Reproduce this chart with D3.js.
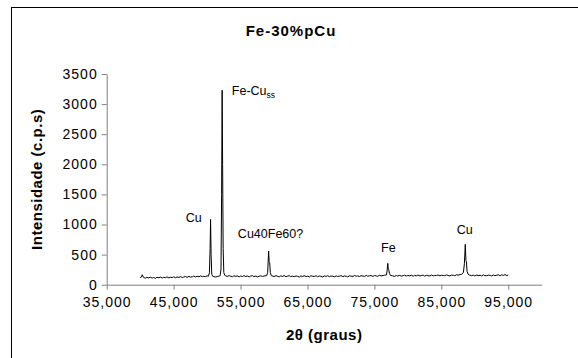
<!DOCTYPE html>
<html>
<head>
<meta charset="utf-8">
<script src="https://cdn.jsdelivr.net/npm/d3@7"></script>
<style>
  body { margin: 0; background: #fff; }
  svg { display: block; font-family: "Liberation Sans", Arial, sans-serif; }
</style>
</head>
<body>
<script>
// 2theta (degrees) and intensity (c.p.s)
var theta = [40.0, 40.2, 40.3, 40.5, 40.8, 41.0, 41.3, 41.5, 41.8, 42.0, 42.3, 42.5, 42.8, 43.0, 43.3, 43.5, 43.8, 44.0, 44.3, 44.5, 44.8, 45.0, 45.3, 45.5, 45.8,
  46.0, 46.3, 46.5, 46.8, 47.0, 47.3, 47.5, 47.8, 48.0, 48.3, 48.5, 48.8, 49.0, 49.3, 49.5, 49.8, 50.0, 50.2,
  50.35, 50.45, 50.52, 50.6, 50.7, 50.85, 51.0, 51.3, 51.6, 51.8,
  51.95, 52.08, 52.17, 52.25, 52.32, 52.4, 52.5, 52.65, 52.8, 53.0, 53.3, 53.5, 53.8, 54.0, 54.3, 54.5, 54.8, 55.0, 55.3, 55.5, 55.8,
  56.0, 56.3, 56.5, 56.8, 57.0, 57.3, 57.5, 57.8, 58.0, 58.3, 58.5,
  58.9, 59.05, 59.2, 59.28, 59.35, 59.45, 59.6, 60.0, 60.3, 60.5, 60.8, 61.0, 61.3, 61.5, 61.8, 62.0, 62.3, 62.5, 62.8, 63.0, 63.3, 63.5, 63.8,
  64.0, 64.3, 64.5, 64.8, 65.0, 65.3, 65.5, 65.8, 66.0, 66.3, 66.5, 66.8, 67.0, 67.3, 67.5, 67.8, 68.0, 68.3, 68.5, 68.8, 69.0, 69.3, 69.5, 69.8,
  70.0, 70.3, 70.5, 70.8, 71.0, 71.3, 71.5, 71.8, 72.0, 72.3, 72.5, 72.8, 73.0, 73.3, 73.5, 73.8, 74.0, 74.3, 74.5, 74.8, 75.0, 75.3, 75.5, 75.8,
  76.0, 76.3, 76.5, 76.8, 76.9, 77.0, 77.08, 77.15, 77.25, 77.4, 77.7, 78.0, 78.3, 78.5, 78.8, 79.0, 79.3, 79.5, 79.8, 80.0, 80.3, 80.5, 80.8,
  81.0, 81.3, 81.5, 81.8, 82.0, 82.3, 82.5, 82.8, 83.0, 83.3, 83.5, 83.8, 84.0, 84.3, 84.5, 84.8, 85.0, 85.3, 85.5, 85.8, 86.0, 86.3, 86.5, 86.8,
  87.0, 87.3, 87.5, 87.8, 88.0, 88.3, 88.45, 88.58, 88.68, 88.75, 88.85, 89.0, 89.2, 89.5, 89.8,
  90.0, 90.3, 90.5, 90.8, 91.0, 91.3, 91.5, 91.8, 92.0, 92.3, 92.5, 92.8, 93.0, 93.3, 93.5, 93.8, 94.0, 94.3, 94.5, 94.8, 95.0];
var counts = [118, 128, 165, 122, 108, 121, 112, 126, 110, 119, 106, 124, 114, 127, 111, 122, 116, 130, 113, 125, 118, 131, 115, 129, 120,
  134, 119, 128, 136, 121, 139, 126, 132, 143, 127, 141, 131, 146, 133, 140, 135, 148, 142,
  200, 600, 1085, 500, 170, 140, 135, 128, 138, 142,
  150, 260, 1500, 3230, 2000, 600, 200, 155, 148, 136, 152, 141, 133, 149, 138, 147, 130, 144, 137, 151, 135,
  146, 132, 143, 150, 134, 145, 129, 141, 148, 136, 145,
  150, 200, 560, 380, 370, 200, 150, 136, 150, 140, 131, 146, 138, 152, 133, 142, 149, 135, 144, 131, 147, 139, 128,
  145, 137, 151, 134, 143, 130, 148, 140, 136, 149, 132, 145, 140, 127, 146, 138, 150, 133, 144, 141, 130, 147, 136, 142,
  151, 134, 146, 139, 131, 149, 142, 136, 153, 140, 147, 135, 150, 143, 138, 155, 141, 148, 152, 137, 154, 145, 140, 157,
  146, 151, 158, 162, 230, 355, 260, 250, 185, 155, 148, 138, 152, 144, 156, 141, 150, 158, 143, 153, 146, 160, 140,
  155, 148, 161, 145, 152, 159, 142, 157, 150, 144, 162, 147, 155, 151, 163, 146, 158, 152, 149, 164, 153, 145, 160, 156,
  150, 166, 158, 168, 172, 200, 350, 670, 400, 380, 220, 175, 160, 150, 158,
  146, 161, 152, 157, 144, 163, 151, 148, 160, 154, 146, 162, 150, 158, 165, 149, 163, 155, 168, 151, 162];

// peak labels
var peakNames = ["Cu", "Fe-Cu", "Cu40Fe60?", "Fe", "Cu"];
var peakTheta = [46.8, 53.7, 54.6, 76.0, 87.3];
var peakCounts = [1040, 3150, 775, 548, 840];

var xTicks = [35, 45, 55, 65, 75, 85, 95];
var yTicks = [0, 500, 1000, 1500, 2000, 2500, 3000, 3500];

var W = 578, H = 358;
var x = d3.scaleLinear().domain([35, 100]).range([106.7, 541.7]);
var y = d3.scaleLinear().domain([0, 3500]).range([284.7, 74]);

var svg = d3.select("body").append("svg")
    .attr("width", W)
    .attr("height", H);

// outer chart border (cut off at right and bottom)
svg.append("rect")
    .attr("x", 11.5).attr("y", 7.5)
    .attr("width", W + 20).attr("height", H + 20)
    .attr("fill", "#fff")
    .attr("stroke", "#000");

svg.append("text")
    .attr("x", 291).attr("y", 36)
    .attr("text-anchor", "middle")
    .attr("font-size", "15px")
    .attr("font-weight", "bold")
    .style("letter-spacing", "1px")
    .text("Fe-30%pCu");

var fmt = function(d) { return d3.format(",.3f")(d).replace(".", ","); };

var xAxis = svg.append("g")
    .attr("transform", "translate(0," + y(0) + ")")
    .call(d3.axisBottom(x).tickValues(xTicks).tickSize(5).tickSizeOuter(0).tickFormat(fmt));

var yAxis = svg.append("g")
    .attr("transform", "translate(" + x(35) + ",0)")
    .call(d3.axisLeft(y).tickValues(yTicks).tickSize(5).tickSizeOuter(0).tickFormat(d3.format("d")));

[xAxis, yAxis].forEach(function(ax) {
    ax.select(".domain").attr("stroke", "#808080");
    ax.selectAll(".tick line").attr("stroke", "#808080");
    ax.selectAll("text")
        .attr("fill", "#000")
        .attr("font-size", "14px")
        .attr("font-family", "Liberation Sans, Arial, sans-serif")
        .style("letter-spacing", "1px");
});
xAxis.selectAll("text").attr("dy", "1.05em");
yAxis.selectAll("text").attr("x", -9);

svg.append("text")
    .attr("transform", "translate(42," + ((y(0) + y(3500)) / 2) + ") rotate(-90)")
    .attr("text-anchor", "middle")
    .attr("font-size", "15px")
    .attr("font-weight", "bold")
    .style("letter-spacing", "0.5px")
    .text("Intensidade (c.p.s)");

svg.append("text")
    .attr("x", (x(35) + x(100)) / 2).attr("y", 340)
    .attr("text-anchor", "middle")
    .attr("font-size", "15px")
    .attr("font-weight", "bold")
    .style("letter-spacing", "0.5px")
    .text("2θ (graus)");

var line = d3.line()
    .x(function(d, i) { return x(theta[i]); })
    .y(function(d) { return y(d); });

svg.append("path")
    .datum(counts)
    .attr("fill", "none")
    .attr("stroke", "#000")
    .attr("stroke-width", 1)
    .attr("d", line);

// peak annotations
var labels = svg.selectAll(".peak")
    .data(peakNames)
    .enter()
    .append("text")
    .attr("class", "peak")
    .attr("x", function(d, i) { return x(peakTheta[i]); })
    .attr("y", function(d, i) { return y(peakCounts[i]); })
    .attr("font-size", "12.5px")
    .text(function(d) { return d; });

labels.filter(function(d) { return d === "Fe-Cu"; })
    .append("tspan")
    .attr("font-size", "8.5px")
    .attr("dy", 3)
    .text("ss");
</script>
</body>
</html>
